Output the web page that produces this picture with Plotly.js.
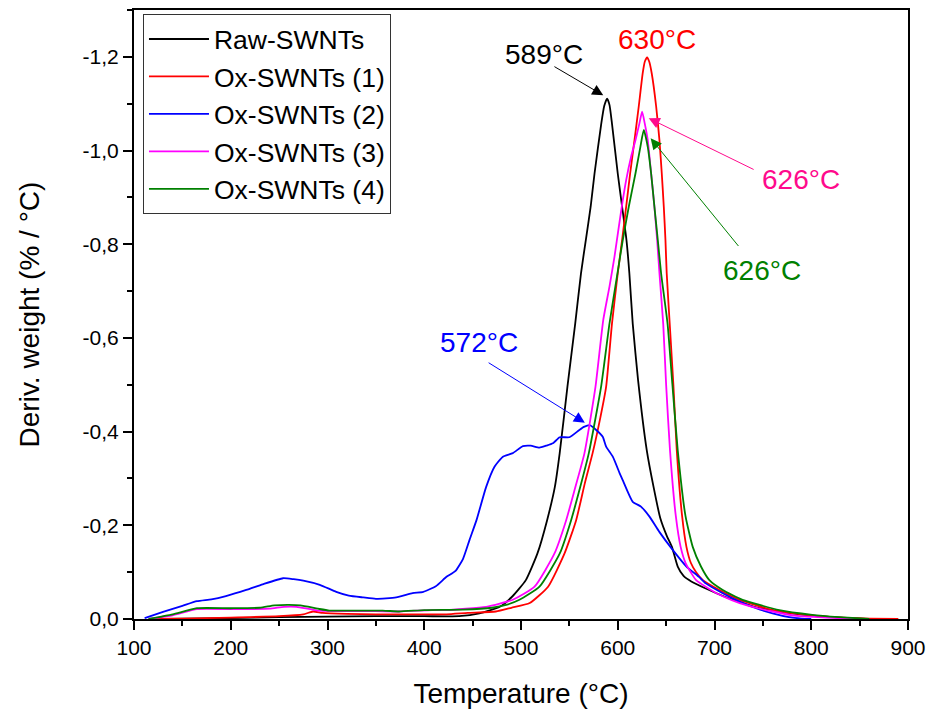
<!DOCTYPE html>
<html>
<head>
<meta charset="utf-8">
<script src="https://cdn.plot.ly/plotly-3.0.1.min.js"></script>
<style>html,body{margin:0;padding:0;background:#fff;}#chart{width:930px;height:713px;}</style>
</head>
<body>
<div id="chart"></div>
<script>
// Series names
const seriesNames = ["Raw-SWNTs", "Ox-SWNTs (1)", "Ox-SWNTs (2)", "Ox-SWNTs (3)", "Ox-SWNTs (4)"];

// Raw-SWNTs
const tempRaw = [130,150,200,250,300,350,400,436,457,478,491,505,517,527,535,540,548,556,562,567,572,576,583,586,589,591.5,594,600,604.5,609,612,615.5,621,630,637,644,651,656,662,668,676,691,710,726,743,767,788,815,850,880];
const derivRaw = [0,-0.001,-0.002,-0.004,-0.005,-0.006,-0.006,-0.006,-0.012,-0.026,-0.048,-0.083,-0.140,-0.211,-0.282,-0.354,-0.496,-0.630,-0.738,-0.809,-0.880,-0.951,-1.058,-1.095,-1.111,-1.097,-1.058,-0.951,-0.880,-0.809,-0.738,-0.630,-0.510,-0.360,-0.282,-0.215,-0.176,-0.154,-0.112,-0.092,-0.080,-0.065,-0.048,-0.036,-0.025,-0.016,-0.010,-0.005,-0.001,0];

// Ox-SWNTs (1)
const tempOx1 = [120,150,200,250,275,285,295,320,350,400,423,445,474,490,509,528,545,557,566,574,582,588,594,600,604.5,608.7,612.8,617.3,621.7,625.8,628,630.4,632.5,635.1,639.7,643.1,645.5,647.6,649.3,650.6,654,657.5,661,666.5,671,675.5,681,688,705,726,760,795,822,860,890];
const derivOx1 = [0,-0.001,-0.003,-0.006,-0.010,-0.016,-0.013,-0.011,-0.010,-0.010,-0.010,-0.013,-0.016,-0.024,-0.034,-0.069,-0.140,-0.211,-0.290,-0.354,-0.430,-0.496,-0.630,-0.738,-0.809,-0.880,-0.951,-1.022,-1.094,-1.165,-1.190,-1.199,-1.190,-1.165,-1.094,-1.022,-0.951,-0.880,-0.809,-0.738,-0.620,-0.500,-0.360,-0.220,-0.154,-0.120,-0.100,-0.083,-0.062,-0.041,-0.019,-0.009,-0.004,-0.001,0];

// Ox-SWNTs (2)
const tempOx2 = [111,130,150,165,180,195,216,233,254,265,275,292,309,322,337,350,371,388,399,412,423,432,440,447,454,464,472.6,481,491.5,502,510,519,526,533,540,550,560,565,571,578,584.5,588,595,602,605,615.5,624,633,643,657,671,684,691,708.5,726,743,760,777,790,800];
const derivOx2 = [-0.002,-0.015,-0.028,-0.038,-0.042,-0.049,-0.062,-0.074,-0.087,-0.085,-0.082,-0.073,-0.058,-0.050,-0.046,-0.043,-0.046,-0.055,-0.058,-0.070,-0.090,-0.102,-0.128,-0.170,-0.211,-0.282,-0.325,-0.346,-0.354,-0.369,-0.370,-0.366,-0.370,-0.375,-0.388,-0.388,-0.403,-0.410,-0.414,-0.403,-0.389,-0.368,-0.346,-0.311,-0.297,-0.250,-0.240,-0.218,-0.186,-0.147,-0.112,-0.090,-0.076,-0.055,-0.037,-0.023,-0.012,-0.004,-0.001,0];

// Ox-SWNTs (3)
const tempOx3 = [115,140,165,200,240,255,268,290,340,374,408,423,464,491.5,514,534.6,546.7,556,565.6,577,585,591.4,596.6,601.1,605.2,608.7,613.8,618.3,622.4,625.2,627.9,631,634.5,637.9,640.7,643.1,647,650,654,660,665,670,676,681,702,726,760,788,815,850];
const derivOx3 = [0,-0.008,-0.021,-0.021,-0.022,-0.026,-0.026,-0.018,-0.017,-0.016,-0.019,-0.019,-0.026,-0.041,-0.069,-0.140,-0.211,-0.280,-0.354,-0.496,-0.638,-0.709,-0.773,-0.837,-0.894,-0.937,-0.987,-1.022,-1.058,-1.083,-1.058,-1.022,-0.951,-0.880,-0.809,-0.738,-0.630,-0.500,-0.360,-0.220,-0.154,-0.120,-0.098,-0.083,-0.055,-0.034,-0.016,-0.006,-0.003,0];

// Ox-SWNTs (4)
const tempOx4 = [115,140,165,200,230,245,260,272,290,302,357,374,400,440,470,484.7,498.4,519.1,540.1,551.8,561,570.1,582.8,591.4,599.7,605.2,611.4,618.3,623.4,626.9,631,634.5,637.9,641.4,644.8,651.5,656.5,662,670,677.5,686,694.7,708.5,729,767,801,829,860];
const derivOx4 = [0,-0.010,-0.023,-0.023,-0.024,-0.029,-0.030,-0.029,-0.022,-0.018,-0.018,-0.016,-0.019,-0.020,-0.024,-0.030,-0.041,-0.069,-0.140,-0.211,-0.280,-0.354,-0.496,-0.630,-0.738,-0.809,-0.880,-0.951,-1.008,-1.044,-1.008,-0.951,-0.880,-0.809,-0.738,-0.630,-0.500,-0.360,-0.220,-0.154,-0.112,-0.083,-0.062,-0.041,-0.019,-0.009,-0.004,0];

// Axis ticks
const yTickVals = [0, -0.2, -0.4, -0.6, -0.8, -1.0, -1.2];
const yTickText = ["0,0", "-0,2", "-0,4", "-0,6", "-0,8", "-1,0", "-1,2"];
const xTickVals = [100, 200, 300, 400, 500, 600, 700, 800, 900];

// Peak labels
const peakLabels = ["589°C", "630°C", "572°C", "626°C", "626°C"];
const peakLabelX = [524, 641, 457, 789, 749];
const peakLabelY = [-1.206, -1.238, -0.590, -0.938, -0.744];
// Arrows (tail -> head), null = no arrow
const arrowTailX = [533, null, 465, 742, 726];
const arrowTailY = [-1.181, null, -0.549, -0.958, -0.793];
const arrowHeadX = [585, null, 566, 632, 634];
const arrowHeadY = [-1.118, null, -0.419, -1.069, -1.026];

const lineColors = ["#000000", "#FF0000", "#0000FF", "#FF00FF", "#008000"];
const labelColors = ["#000000", "#FF0000", "#0000FF", "#FF0A8C", "#008000"];

const xs = [tempRaw, tempOx1, tempOx2, tempOx3, tempOx4];
const ys = [derivRaw, derivOx1, derivOx2, derivOx3, derivOx4];

const traces = seriesNames.map((n, i) => ({
  type: "scatter", mode: "lines", name: n,
  x: xs[i], y: ys[i],
  line: {color: lineColors[i], width: 1.8, shape: "spline", smoothing: 0.5}
}));

const annotations = [];
peakLabels.forEach((t, i) => {
  annotations.push({
    xref: "x", yref: "y", x: peakLabelX[i], y: peakLabelY[i],
    text: t, showarrow: false,
    font: {size: 28, color: labelColors[i], family: "Liberation Sans, Arial, sans-serif"}
  });
  if (arrowTailX[i] !== null) {
    annotations.push({
      xref: "x", yref: "y", axref: "x", ayref: "y",
      x: arrowHeadX[i], y: arrowHeadY[i], ax: arrowTailX[i], ay: arrowTailY[i],
      text: "", showarrow: true, arrowhead: 2, arrowsize: 2.2, arrowwidth: 1,
      arrowcolor: labelColors[i], standoff: 0, startstandoff: 0
    });
  }
});

const layout = {
  width: 930, height: 713,
  margin: {l: 134, r: 22, t: 10, b: 94},
  paper_bgcolor: "#ffffff", plot_bgcolor: "#ffffff",
  font: {family: "Liberation Sans, Arial, sans-serif", color: "#000"},
  showlegend: true,
  legend: {
    x: 0.0116, y: 0.993, xanchor: "left", yanchor: "top",
    bgcolor: "#ffffff", bordercolor: "#333333", borderwidth: 1,
    font: {size: 26.5, color: "#000"}, tracegroupgap: 0, itemwidth: 60
  },
  xaxis: {
    range: [100, 900], tickmode: "array", tickvals: xTickVals,
    ticks: "outside", ticklen: 9, tickwidth: 2, tickcolor: "#000",
    minor: {dtick: 50, tick0: 100, ticks: "outside", ticklen: 5, tickwidth: 2, tickcolor: "#000"},
    showline: true, linewidth: 2, linecolor: "#000", mirror: true,
    showgrid: false, zeroline: false,
    tickfont: {size: 21},
    title: {text: "Temperature (°C)", font: {size: 28}, standoff: 25}
  },
  yaxis: {
    range: [0, -1.3], tickmode: "array", tickvals: yTickVals, ticktext: yTickText,
    ticks: "outside", ticklen: 9, tickwidth: 2, tickcolor: "#000",
    minor: {dtick: 0.1, tick0: 0, ticks: "outside", ticklen: 5, tickwidth: 2, tickcolor: "#000"},
    showline: true, linewidth: 2, linecolor: "#000", mirror: true,
    showgrid: false, zeroline: false,
    tickfont: {size: 21},
    title: {text: "Deriv. weight (% / °C)", font: {size: 28}, standoff: 35}
  },
  annotations: annotations
};

Plotly.newPlot("chart", traces, layout, {displayModeBar: false, staticPlot: true});
</script>
</body>
</html>
